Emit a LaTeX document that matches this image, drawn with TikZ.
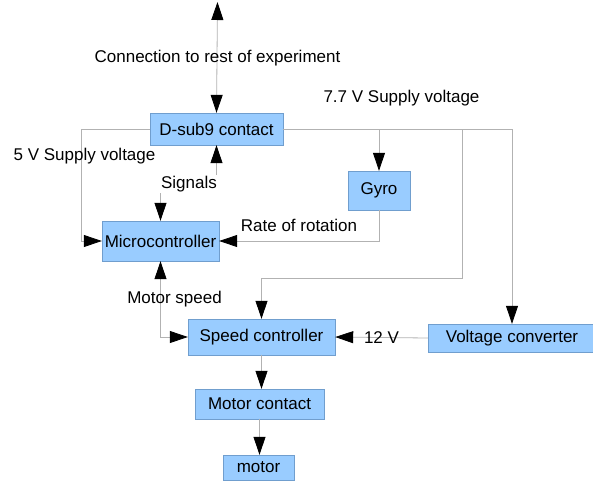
\documentclass[tikz,border=0pt]{standalone}
\usepackage{fontspec}
\setmainfont{Liberation Sans}
\usepackage{xcolor}
\usepackage{tikz}
\usetikzlibrary{calc, arrows.meta, positioning}
\definecolor{boxfill}{RGB}{153, 204, 255}
\definecolor{boxline}{RGB}{112, 158, 206}
\definecolor{wire}{RGB}{178, 178, 178}
\tikzset{
    boxnode/.style = {draw=boxline, fill=boxfill, rectangle, inner sep = 0em, node distance=0em, 
      font=\fontsize{17}{20}\selectfont},
    textnode/.style  = {draw=none, fill=none, rectangle, minimum size=0cm, inner sep = 0em, 
      node distance=0em, font=\fontsize{17}{20}\selectfont},
    connect/.style = {wire, line width=0.8pt, >={Triangle[length=18pt, width=12pt, color=black]}},
    every text node part/.style={align=center}
}

\begin{document}
\begin{tikzpicture}[x=1pt, y=-1pt]
    \useasboundingbox (0,0) rectangle (593,480);

    \node [name = dsub, boxnode, minimum width=133pt, minimum height=32pt] at (216.5,129) {D-sub9 contact};
    \node [name = gyro, boxnode, minimum width=62pt, minimum height=39pt] at (379,190.5) {Gyro};
    \node [name = micro, boxnode, minimum width=117pt, minimum height=40pt] at (160.5,241) {Microcontroller};
    \node [name = speed, boxnode, minimum width=147pt, minimum height=36pt] at (261.5,337) {Speed controller};
    \node [name = volt, boxnode, minimum width=168pt, minimum height=28pt] at (512,338) {Voltage converter};
    \node [name = mcontact, boxnode, minimum width=129pt, minimum height=30pt] at (259.5,404) {Motor contact};
    \node [name = motor, boxnode, minimum width=71pt, minimum height=25pt] at (258.5,467.5) {motor};

    \coordinate (top) at (217.5,2);
    \coordinate (tap) at (462,129);
    \coordinate (bend) at (462,278);

    \draw [connect, <->] (top) -- (dsub.north);
    \draw [connect, ->] (dsub.west) -- ++(-68,0) |- (micro.west);
    \draw [connect, ->] (dsub.east) -| (volt.north);
    \draw [connect, ->] (gyro.north |- dsub.east) -- (gyro.north);
    \draw [connect, ->] (tap) -- (bend) -| (speed.north);
    \draw [connect, ->] (gyro.south) |- (micro.east);
    \draw [connect, <->] (dsub.south) -- ++(0,40) -| (micro.north);
    \draw [connect, <->] (micro.south) |- (speed.west);
    \draw [connect, ->] (volt.west) -- (speed.east);
    \draw [connect, ->] (speed.south) -- (speed.south |- mcontact.north);
    \draw [connect, ->] (mcontact.south) -- (mcontact.south |- motor.north);

    \node [name = conn, textnode] at (217.5,58) {Connection to rest of experiment};
    \node [name = sup7, textnode] at (401.5,98) {7.7 V Supply voltage};
    \node [name = sup5, textnode] at (84.5,156) {5 V Supply voltage};
    \node [name = sig, textnode, fill=white, inner sep=1pt] at (189,184) {Signals};
    \node [name = rate, textnode] at (299,225) {Rate of rotation};
    \node [name = mspeed, textnode] at (174.5,299) {Motor speed};
    \node [name = twelve, textnode] at (381.5,338) {12 V};
\end{tikzpicture}
\end{document}
